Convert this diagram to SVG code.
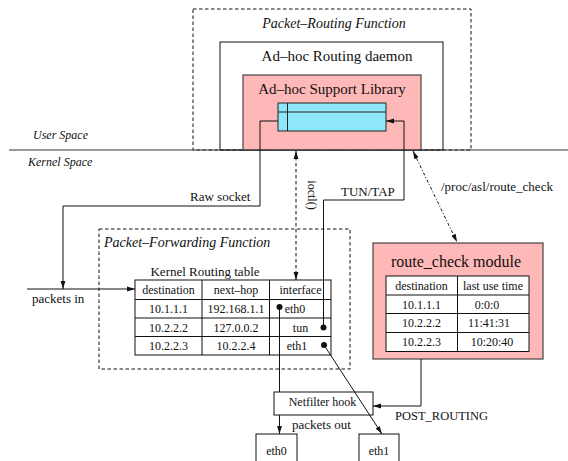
<svg xmlns="http://www.w3.org/2000/svg" width="568" height="461" viewBox="0 0 568 461">
<style>
  text { font-family: "Liberation Serif", "Times New Roman", serif; fill: #111; }
  .it { font-style: italic; }
  .mid { text-anchor: middle; }
  .ln { fill: none; stroke: #111; stroke-width: 1; }
  .dash { fill: none; stroke: #111; stroke-width: 1; stroke-dasharray: 3.5 2.5; }
  .dd { fill: none; stroke: #111; stroke-width: 1; stroke-dasharray: 3 2 1 2; }
  .pink { fill: #ffb8b8; stroke: #444; stroke-width: 1.2; }
  .cell { fill: #fff; stroke: #111; stroke-width: 1; }
  .box { fill: #fff; stroke: #111; stroke-width: 1; }
  .t12 { font-size: 12px; }
  .t13 { font-size: 13px; }
</style>
<defs>
  <marker id="ah" viewBox="0 0 8 6" refX="8" refY="3" markerWidth="8" markerHeight="6" markerUnits="userSpaceOnUse" orient="auto-start-reverse">
    <path d="M0,0.6 L8,3 L0,5.4 z" fill="#111"/>
  </marker>
</defs>
<rect width="568" height="461" fill="#fff"/>

<g id="packet-routing-function">
  <rect x="193" y="9" width="278" height="141" class="dash"/>
  <text x="334" y="28" class="it mid" font-size="14">Packet–Routing Function</text>
</g>
<g id="adhoc-routing-daemon">
  <rect x="220" y="42" width="223" height="108" class="ln"/>
  <text x="337" y="61" class="mid" font-size="15">Ad–hoc Routing daemon</text>
</g>
<g id="adhoc-support-library">
  <rect x="243" y="75" width="178" height="75" class="pink"/>
  <text x="332" y="94" class="mid" font-size="15">Ad–hoc Support Library</text>
  <rect x="278" y="103" width="108" height="28" fill="#8ee6fa" stroke="#222" stroke-width="1"/>
  <line x1="278" y1="112" x2="386" y2="112" stroke="#222"/>
  <line x1="287.5" y1="103" x2="287.5" y2="131" stroke="#222"/>
</g>

<g id="space-divider">
  <line x1="9" y1="150" x2="568" y2="150" stroke="#333" stroke-width="1"/>
  <text x="33" y="139" class="it t12">User Space</text>
  <text x="28" y="166" class="it t12">Kernel Space</text>
</g>

<g id="packet-forwarding-function">
  <rect x="99" y="229" width="251" height="140" class="dash"/>
  <text x="104" y="247" class="it" font-size="14">Packet–Forwarding Function</text>
</g>
<g id="kernel-routing-table">
  <text x="205" y="276" class="mid t13">Kernel Routing table</text>
  <rect x="135" y="280" width="196" height="75" class="cell"/>
  <line x1="135" y1="299.5" x2="331" y2="299.5" class="ln"/>
  <line x1="135" y1="318" x2="331" y2="318" class="ln"/>
  <line x1="135" y1="336.5" x2="331" y2="336.5" class="ln"/>
  <line x1="202" y1="280" x2="202" y2="355" class="ln"/>
  <line x1="269.5" y1="280" x2="269.5" y2="355" class="ln"/>
  <g class="t12">
    <text x="168.5" y="294" class="mid">destination</text>
    <text x="236" y="294" class="mid">next–hop</text>
    <text x="300.5" y="294" class="mid">interface</text>
    <text x="168.5" y="313" class="mid">10.1.1.1</text>
    <text x="236" y="313" class="mid">192.168.1.1</text>
    <text x="295" y="313" class="mid">eth0</text>
    <text x="168.5" y="331.5" class="mid">10.2.2.2</text>
    <text x="236" y="331.5" class="mid">127.0.0.2</text>
    <text x="300.5" y="331.5" class="mid">tun</text>
    <text x="168.5" y="350" class="mid">10.2.2.3</text>
    <text x="236" y="350" class="mid">10.2.2.4</text>
    <text x="297" y="350" class="mid">eth1</text>
  </g>
</g>

<g id="route-check-module">
  <rect x="373" y="243" width="170" height="116" class="pink"/>
  <text x="456" y="267" class="mid" font-size="16">route_check module</text>
  <rect x="386" y="276" width="143" height="75.5" class="cell"/>
  <line x1="386" y1="295" x2="529" y2="295" class="ln"/>
  <line x1="386" y1="313.5" x2="529" y2="313.5" class="ln"/>
  <line x1="386" y1="332.5" x2="529" y2="332.5" class="ln"/>
  <line x1="457.5" y1="276" x2="457.5" y2="351.5" class="ln"/>
  <g class="t12">
    <text x="421.5" y="290" class="mid">destination</text>
    <text x="493" y="290" class="mid">last use time</text>
    <text x="421.5" y="308.5" class="mid">10.1.1.1</text>
    <text x="487" y="308.5" class="mid">0:0:0</text>
    <text x="421.5" y="327" class="mid">10.2.2.2</text>
    <text x="489" y="327" class="mid">11:41:31</text>
    <text x="421.5" y="346" class="mid">10.2.2.3</text>
    <text x="492" y="346" class="mid">10:20:40</text>
  </g>
</g>

<g id="netfilter-hook">
  <rect x="274" y="392" width="99" height="23" class="box"/>
  <text x="322.5" y="406" class="mid t12">Netfilter hook</text>
</g>
<g id="eth0">
  <rect x="256" y="434" width="41" height="30" class="box"/>
  <text x="276.5" y="455" class="mid t12">eth0</text>
</g>
<g id="eth1">
  <rect x="359" y="434" width="40" height="30" class="box"/>
  <text x="379" y="455" class="mid t12">eth1</text>
</g>

<g id="connectors">
  <path d="M278,121 H260 V206 H63 V289" class="ln" marker-end="url(#ah)"/>
  <path d="M27,289 H135" class="ln" marker-end="url(#ah)"/>
  <path d="M296,151 V280" class="dash" marker-start="url(#ah)" marker-end="url(#ah)"/>
  <path d="M323.5,327.5 V200 H404 V121 H386" class="ln" marker-end="url(#ah)"/>
  <path d="M279.5,307 V392" class="ln"/>
  <path d="M279.5,415 V434" class="ln" marker-end="url(#ah)"/>
  <path d="M324,345 L382,434" class="ln" marker-end="url(#ah)"/>
  <path d="M421,359 V406 H373" class="ln" marker-end="url(#ah)"/>
  <path d="M413,151 L457,242" class="dd" marker-start="url(#ah)" marker-end="url(#ah)"/>
  <circle cx="279.5" cy="307" r="3" fill="#111"/>
  <circle cx="323.5" cy="327.5" r="3" fill="#111"/>
  <circle cx="324" cy="345" r="3" fill="#111"/>
  <text x="190" y="201" class="t13">Raw socket</text>
  <text x="32" y="303" class="t13">packets in</text>
  <text x="341" y="196" class="t13">TUN/TAP</text>
  <text x="441" y="191" class="t13">/proc/asl/route_check</text>
  <text x="395" y="420" font-size="12.5">POST_ROUTING</text>
  <text x="292" y="429" class="t13">packets out</text>
  <text transform="translate(308,195) rotate(90)" class="mid t12">ioctl()</text>
</g>
</svg>
